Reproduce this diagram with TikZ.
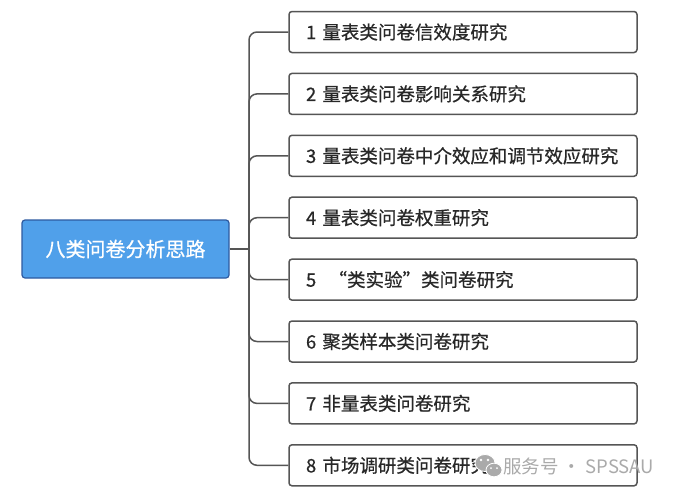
\documentclass[tikz,border=0pt]{standalone}
\usepackage{fontspec}
\setmainfont{Noto Sans CJK SC}
\newfontfamily\cjk[FakeBold=0.6]{Noto Sans CJK SC}
\newfontfamily\cjkl{Noto Sans CJK SC}
\begin{document}
\begin{tikzpicture}[x=1pt,y=-1pt,
  rootbox/.style={draw=rootedge,fill=rootfill,line width=1.2pt,rounded corners=3pt,
    minimum width=207pt,minimum height=58pt,inner sep=0pt,text=white,font=\cjk\fontsize{20}{24}\selectfont},
  childbox/.style={draw=linegray,fill=white,line width=1.5pt,rounded corners=3pt,
    minimum width=348pt,minimum height=41pt,inner sep=0pt,text=textgray,
    text width=314pt,align=left,font=\cjk\fontsize{18.5}{22}\selectfont},
  conn/.style={draw=linegray,line width=1.5pt},
  wm/.style={text=wmgray,font=\cjkl\fontsize{18.5}{22}\selectfont,inner sep=0pt,anchor=west}]
\definecolor{rootfill}{RGB}{80,160,234}
\definecolor{rootedge}{RGB}{45,90,160}
\definecolor{linegray}{RGB}{85,85,85}
\definecolor{textgray}{RGB}{40,40,40}
\definecolor{wmgray}{RGB}{170,170,170}
\useasboundingbox (0,0) rectangle (674,501);
\fill[white] (0,0) rectangle (674,501);
\node[rootbox] (root) at (125.5,249) {八类问卷分析思路};
\coordinate (spine) at (249,249);
\foreach \i/\t in {1/{1 量表类问卷信效度研究},2/{2 量表类问卷影响关系研究},3/{3 量表类问卷中介效应和调节效应研究},4/{4 量表类问卷权重研究},5/{5 \ “类实验”类问卷研究},6/{6 聚类样本类问卷研究},7/{7 非量表类问卷研究},8/{8 市场调研类问卷研究}}{
  \node[childbox] (c\i) at (463,{32+(\i-1)*61.9}) {\t};
}
\draw[conn] (root.east) -- (spine);
\foreach \i in {1,...,8}{
  \draw[conn,rounded corners=8pt] (spine) |- (c\i.west);
}
% watermark
\begin{scope}[wmgray]
\fill[draw=white,line width=0.8pt] (485,463) ellipse (10pt and 8.5pt);
\fill[draw=white,line width=0.8pt] (494,470) ellipse (8pt and 6.8pt);
\fill[white] (481,460) circle (1.3pt) (488,460) circle (1.3pt);
\fill[white] (491,468) circle (1pt) (497,468) circle (1pt);
\end{scope}
\node[wm] (wmtext) at (503,466) {服务号 · SPSSAU};
\end{tikzpicture}
\end{document}
